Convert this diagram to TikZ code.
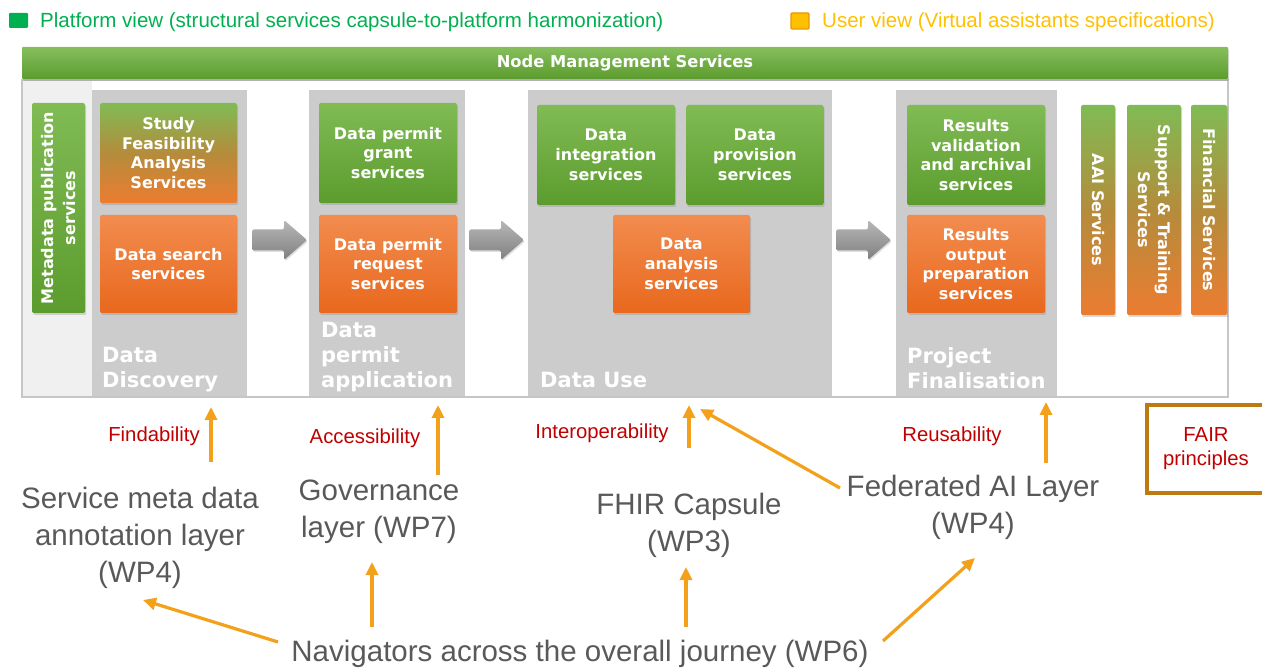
\documentclass[tikz,border=0pt]{standalone}
\usepackage{fontspec}
\usepackage{graphicx}
\setmainfont{Liberation Sans}
\newfontfamily\boxfont{DejaVu Sans}
\usetikzlibrary{arrows.meta,shadows}

% palette
\definecolor{gtop}{RGB}{128,187,84}
\definecolor{gbot}{RGB}{92,156,46}
\definecolor{otop}{RGB}{242,140,78}
\definecolor{obot}{RGB}{232,104,30}
\definecolor{mixend}{RGB}{236,124,48}
\definecolor{mixmid}{RGB}{180,140,60}
\definecolor{colgray}{RGB}{204,204,204}
\definecolor{sidegray}{RGB}{240,240,240}
\definecolor{framegray}{RGB}{198,198,198}
\definecolor{arrowor}{RGB}{243,160,26}
\definecolor{txtgray}{RGB}{89,89,89}
\definecolor{fairred}{RGB}{192,0,0}
\definecolor{fairbrown}{RGB}{188,122,16}
\definecolor{legendgreen}{RGB}{0,176,80}
\definecolor{legendgold}{RGB}{255,192,0}
\definecolor{legendedge}{RGB}{236,150,0}

\tikzset{
  svc/.style={rounded corners=2pt, inner sep=0pt,
    drop shadow={shadow xshift=1.2pt, shadow yshift=-2pt, opacity=0.3}},
  greenbox/.style={svc, top color=gtop, bottom color=gbot},
  orangebox/.style={svc, top color=otop, bottom color=obot},
  mixbox/.style={svc, top color=gtop, bottom color=mixend, middle color=mixmid},
  svctext/.style={font=\boxfont\bfseries\fontsize{16}{19.8}\selectfont,
    text=white, align=center, inner sep=0pt},
  phase/.style={font=\boxfont\bfseries\fontsize{21}{25}\selectfont,
    text=white, align=left, anchor=north west, inner sep=0pt},
  layer/.style={font=\fontsize{29.5}{37}\selectfont, text=txtgray, align=center, inner sep=0pt},
  fairlabel/.style={font=\fontsize{20.3}{24}\selectfont, text=fairred, align=center, inner sep=0pt},
  legendtext/.style={font=\fontsize{20.5}{24}\selectfont, anchor=base west, inner sep=0pt},
  link/.style={draw=arrowor, line width=3.2pt, -{Triangle[length=13pt,width=12pt]}},
  blockarrow/.style={top color=black!28, bottom color=black!50,
    rounded corners=1.5pt,
    drop shadow={shadow xshift=1pt, shadow yshift=-1.5pt, opacity=0.25}},
  flow/.pic={\path[blockarrow] (0,-10.5) -- (32,-10.5) -- (32,-20) -- (55,0)
      -- (32,20) -- (32,10.5) -- (0,10.5) -- cycle;}
}

\begin{document}
\begin{tikzpicture}[x=1pt,y=-1pt]
\useasboundingbox (0,0) rectangle (1262,668);

% legend
\fill[legendgreen, rounded corners=1pt] (9,13) rectangle (28,28);
\node[legendtext, text=legendgreen] (platform) at (40,28)
  {Platform view (structural services capsule-to-platform harmonization)};
\filldraw[fill=legendgold, draw=legendedge, line width=1.2pt, rounded corners=1pt]
  (791,13) rectangle (809,29);
\node[legendtext, text=legendgold] (userview) at (822,28)
  {User view (Virtual assistants specifications)};

% service panel with the four journey phases
\filldraw[fill=white, draw=framegray, line width=1.2pt] (22,80) rectangle (1228,397);
\fill[sidegray] (23,81) rectangle (92,396);
\fill[colgray] (92,90) rectangle (247,396.4);
\fill[colgray] (309,90) rectangle (465,396.4);
\fill[colgray] (528,90) rectangle (832,396.4);
\fill[colgray] (896,90) rectangle (1057,396.4);

% top bar
\node[svc, rounded corners=1pt, top color=gtop!95!white, bottom color=gbot,
  minimum width=1206pt, minimum height=32pt,
  font=\boxfont\bfseries\fontsize{16.3}{18}\selectfont, text=white] (nms) at (625,63)
  {Node Management Services};

% phase labels
\node[phase] (ph-discovery) at (102,347) {Data\\Discovery};
\node[phase] (ph-permit) at (321,322) {Data\\permit\\application};
\node[phase] (ph-use) at (540,372) {Data Use};
\node[phase] (ph-final) at (907,347) {Project\\Finalisation};

% services
\node[greenbox, minimum width=53pt, minimum height=210pt] (meta) at (58.5,208) {};
\node[svctext, font=\boxfont\bfseries\fontsize{16}{22}\selectfont, rotate=90]
  (meta-label) at (meta) {Metadata publication\\services};

\node[mixbox, svctext, minimum width=137pt, minimum height=100pt] (study) at (168.5,153)
  {Study\\Feasibility\\Analysis\\Services};
\node[orangebox, svctext, minimum width=137pt, minimum height=98pt] (search) at (168.5,264)
  {Data search\\services};

\node[greenbox, svctext, minimum width=138pt, minimum height=100pt] (grant) at (388,153)
  {Data permit\\grant\\services};
\node[orangebox, svctext, minimum width=138pt, minimum height=98pt] (request) at (388,264)
  {Data permit\\request\\services};

\node[greenbox, svctext, minimum width=138pt, minimum height=100pt] (integ) at (606,155)
  {Data\\integration\\services};
\node[greenbox, svctext, minimum width=137pt, minimum height=100pt] (prov) at (755,155)
  {Data\\provision\\services};
\node[orangebox, svctext, minimum width=137pt, minimum height=98pt] (analysis) at (681.5,264)
  {Data\\analysis\\services};

\node[greenbox, svctext, minimum width=138pt, minimum height=100pt] (resval) at (976,155)
  {Results\\validation\\and archival\\services};
\node[orangebox, svctext, minimum width=138pt, minimum height=98pt] (resout) at (976,264)
  {Results\\output\\preparation\\services};

\node[mixbox, minimum width=34pt, minimum height=210pt] (aai) at (1098,210) {};
\node[svctext, rotate=-90] (aai-label) at (aai) {AAI Services};
\node[mixbox, minimum width=54pt, minimum height=210pt] (support) at (1154,210) {};
\node[svctext, font=\boxfont\bfseries\fontsize{16}{20}\selectfont, rotate=-90]
  (support-label) at (support) {Support \& Training\\Services};
\node[mixbox, minimum width=36pt, minimum height=210pt] (finance) at (1209,210) {};
\node[svctext, rotate=-90] (finance-label) at (finance) {Financial Services};

% flow between phases
\pic at (252,240) {flow};
\pic at (469,240) {flow};
\pic at (836,240) {flow};

% FAIR principles
\node[fairlabel] (l-find) at (154,436) {Findability};
\node[fairlabel] (l-access) at (365,438) {Accessibility};
\node[fairlabel] (l-interop) at (602,433) {Interoperability};
\node[fairlabel] (l-reuse) at (952,436) {Reusability};
\node[fairlabel, draw=fairbrown, line width=3.4pt, minimum width=118pt, minimum height=88pt]
  (fair) at (1206,449) {FAIR\\principles};

% layers
\node[layer] (smd) at (140,538) {Service meta data\\annotation layer\\(WP4)};
\node[layer] (gov) at (379,512) {Governance\\layer (WP7)};
\node[layer] (fhir) at (689,525) {FHIR Capsule\\(WP3)};
\node[layer] (fai) at (973,507) {Federated AI Layer\\(WP4)};
\node[layer] (nav) at (580,654) {Navigators across the overall journey (WP6)};

% connector ends
\coordinate (find-from) at (211,462);   \coordinate (find-to) at (211,407);
\coordinate (access-from) at (438,475); \coordinate (access-to) at (438,405);
\coordinate (interop-from) at (689,448);\coordinate (interop-to) at (689,405);
\coordinate (fai-from) at (840,488);    \coordinate (use-to) at (700,409);
\coordinate (reuse-from) at (1046,463); \coordinate (reuse-to) at (1046,402);
\coordinate (nav-smd) at (278,642);     \coordinate (smd-to) at (143,600);
\coordinate (nav-gov) at (372,627);     \coordinate (gov-to) at (372,562);
\coordinate (nav-fhir) at (686,627);    \coordinate (fhir-to) at (686,567);
\coordinate (nav-fai) at (883,641);     \coordinate (fai-to) at (975,558);

\draw[link] (find-from) -- (find-to);
\draw[link] (access-from) -- (access-to);
\draw[link] (interop-from) -- (interop-to);
\draw[link] (fai-from) -- (use-to);
\draw[link] (reuse-from) -- (reuse-to);
\draw[link] (nav-smd) -- (smd-to);
\draw[link] (nav-gov) -- (gov-to);
\draw[link] (nav-fhir) -- (fhir-to);
\draw[link] (nav-fai) -- (fai-to);
\end{tikzpicture}
\end{document}
